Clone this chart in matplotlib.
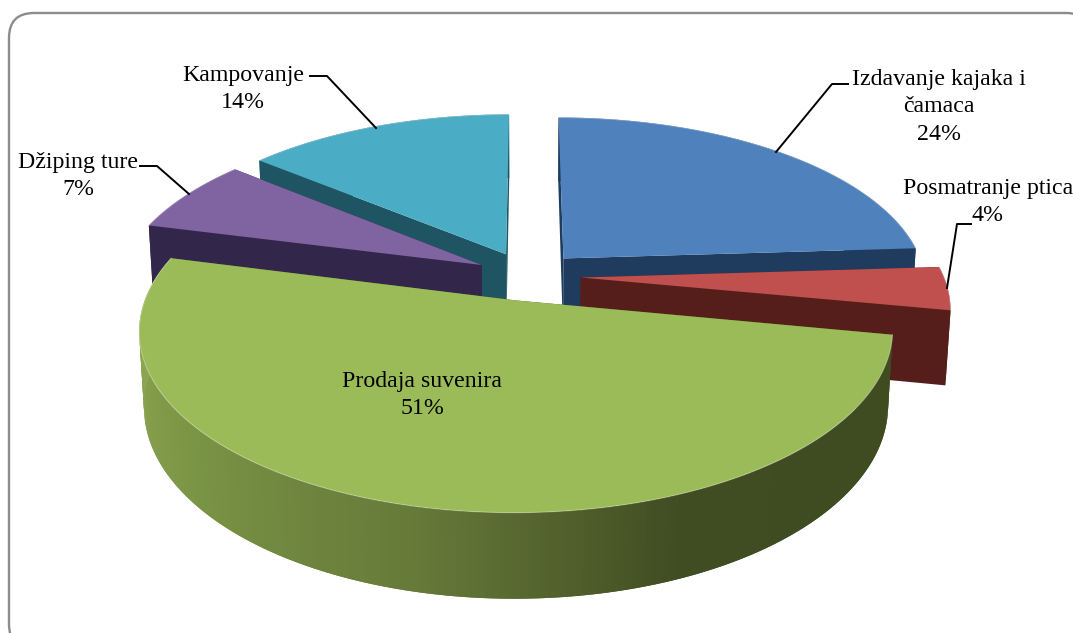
import matplotlib
matplotlib.use('Agg')
import matplotlib.pyplot as plt
import numpy as np
from matplotlib.patches import FancyBboxPatch, Polygon

categories = ['Izdavanje kajaka i\nčamaca', 'Posmatranje ptica', 'Prodaja suvenira', 'Džiping ture', 'Kampovanje']
values = [24, 4, 51, 7, 14]
top_colors = ['#4f81bd', '#c0504d', '#9bbb59', '#8064a2', '#4bacc6']
wall_colors = ['#1f3b5e', '#561e1b', '#4a5c28', '#32264a', '#1f5463']

# draw order, back to front
draw_order = [0, 4, 3, 1, 2]

CX, CY = 528, 276
R, S, D = 363, 169, 74
K, Q = 0.162, 0.012
EXPLODE = 0.145


def project(u, v, z):
    w = 1 + K*v + Q*z
    return CX + R*u/w, CY + (D*z - S*v)/w


def outline(t1, t2, off):
    t = np.radians(np.linspace(t1, t2, 200))
    return off[0] + np.sin(t), off[1] + np.cos(t)


def strip(us, vs, color, zorder):
    # side wall between the top and bottom edge of a run of points
    xt, yt = project(us, vs, 0)
    xb, yb = project(us, vs, 1)
    pts = np.column_stack([np.r_[xt, xb[::-1]], np.r_[yt, yb[::-1]]])
    ax.add_patch(Polygon(pts, closed=True, fc=color, ec='none', zorder=zorder))


def green_wall(t):
    # lighter on the left of the rim, dark towards the right
    stops_t = [100.8, 158, 193, 230, 261, 284.4]
    stops_r = [0x3e, 0x40, 0x66, 0x7a, 0x8a, 0x8f]
    stops_g = [0x4c, 0x4c, 0x7a, 0x94, 0xa4, 0xaa]
    stops_b = [0x20, 0x22, 0x39, 0x45, 0x50, 0x52]
    return (np.interp(t, stops_t, stops_r)/255, np.interp(t, stops_t, stops_g)/255,
            np.interp(t, stops_t, stops_b)/255)


fig = plt.figure(figsize=(10.73, 6.33), dpi=100)
ax = fig.add_axes([0, 0, 1, 1])
ax.set_xlim(0, 1073)
ax.set_ylim(633, 0)
ax.axis('off')

ax.add_patch(FancyBboxPatch((34, 38), 1032, 586, boxstyle='round,pad=25,rounding_size=25',
                            fc='white', ec='#8c8c8c', lw=1.7, zorder=0))

angles = np.r_[0, np.cumsum(values)]*360/sum(values)

for n, i in enumerate(draw_order):
    t1, t2 = angles[i], angles[i+1]
    mid = np.radians((t1+t2)/2)
    off = (EXPLODE*np.sin(mid), EXPLODE*np.cos(mid))
    zo = 10 + n*2
    us, vs = outline(t1, t2, off)

    # radial faces first, then the rim
    strip(np.array([off[0], us[0]]), np.array([off[1], vs[0]]), wall_colors[i], zo)
    strip(np.array([off[0], us[-1]]), np.array([off[1], vs[-1]]), wall_colors[i], zo)
    if i == 2:
        ts = np.linspace(t1, t2, 200)
        for j in range(len(ts)-1):
            # overlap the next strip so no seams show
            strip(us[j:j+3], vs[j:j+3], green_wall((ts[j]+ts[j+1])/2), zo)
    else:
        strip(us, vs, wall_colors[i], zo)

    x, y = project(np.r_[off[0], us], np.r_[off[1], vs], 0)
    ax.add_patch(Polygon(np.column_stack([x, y]), closed=True, fc=top_colors[i],
                         ec='none', zorder=zo+1))
    # faint light rim on the outer edge
    xr, yr = project(us, vs, 0)
    ax.plot(xr, yr, color='#ffffff', alpha=0.3, lw=0.8, zorder=zo+1)

# label anchors and leader lines
label_xy = [(939, 107), (988, 202), (422, 395), (78, 176), (243, 89)]
leaders = [[(848, 84), (832, 84), (776, 152)],
           [(971, 224), (957, 224), (947, 288)],
           None,
           [(140, 166), (157, 166), (189, 194)],
           [(310, 76), (327, 76), (376, 128)]]

for i, name in enumerate(categories):
    ax.text(label_xy[i][0], label_xy[i][1], f'{name}\n{values[i]}%', ha='center', va='center',
            family='Liberation Serif', fontsize=17.2, color='black', linespacing=1.38, zorder=30)
    if leaders[i]:
        lx, ly = zip(*leaders[i])
        ax.plot(lx, ly, color='black', lw=1.4, zorder=29)

fig.savefig('out.png', dpi=100)
